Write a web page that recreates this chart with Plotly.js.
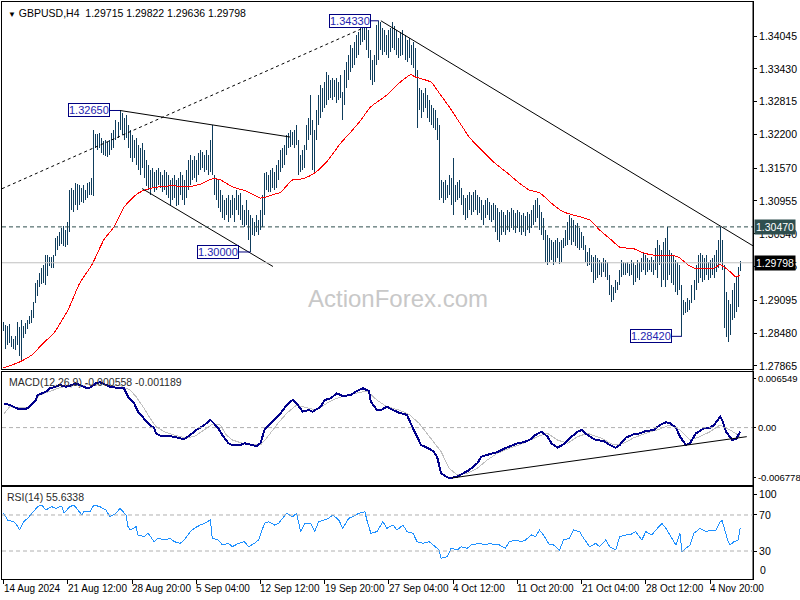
<!DOCTYPE html>
<html><head><meta charset="utf-8">
<script src="https://cdn.plot.ly/plotly-3.0.1.min.js"></script>
<style>
html,body{margin:0;padding:0;background:#fff;}
#chart{width:800px;height:600px;}
.js-line{shape-rendering:crispEdges;}
</style></head>
<body><div id="chart"></div>
<script>
// ---------------- DATA ----------------
const dateIdx = [0,32,64,96,128,160,192,224,256,288,320,352];
const dateLabels = ["14 Aug 2024","21 Aug 12:00","28 Aug 20:00","5 Sep 04:00","12 Sep 12:00","19 Sep 20:00","27 Sep 04:00","4 Oct 12:00","11 Oct 20:00","21 Oct 04:00","28 Oct 12:00","4 Nov 20:00"];

const highs = [1.2869,1.2863,1.2861,1.2865,1.2843,1.2837,1.2843,1.2869,1.2859,1.2873,
1.2861,1.2867,1.2873,1.2880,1.2891,1.2906,1.2942,1.2948,1.2961,1.2970,
1.2976,1.2994,1.2994,1.2991,1.2991,1.2994,1.3026,1.3030,1.3037,1.3045,
1.3049,1.3041,1.3056,1.3116,1.3120,1.3116,1.3129,1.3127,1.3125,1.3120,
1.3125,1.3116,1.3129,1.3131,1.3139,1.3228,1.3221,1.3221,1.3223,1.3213,
1.3208,1.3210,1.3206,1.3210,1.3223,1.3228,1.3247,1.3243,1.3265,1.3260,
1.3251,1.3257,1.3238,1.3228,1.3219,1.3210,1.3213,1.3200,1.3195,1.3204,
1.3191,1.3172,1.3163,1.3154,1.3157,1.3150,1.3154,1.3157,1.3150,1.3144,
1.3154,1.3150,1.3144,1.3135,1.3139,1.3144,1.3135,1.3139,1.3150,1.3144,
1.3135,1.3154,1.3172,1.3182,1.3172,1.3180,1.3172,1.3185,1.3191,1.3187,
1.3182,1.3191,1.3182,1.3210,1.3238,1.3144,1.3139,1.3135,1.3116,1.3107,
1.3097,1.3101,1.3107,1.3097,1.3107,1.3101,1.3116,1.3107,1.3110,1.3088,
1.3079,1.3097,1.3079,1.3069,1.3064,1.3056,1.3069,1.3060,1.3079,1.3107,
1.3148,1.3150,1.3144,1.3154,1.3157,1.3150,1.3163,1.3172,1.3191,1.3195,
1.3200,1.3219,1.3223,1.3228,1.3225,1.3228,1.3238,1.3210,1.3182,1.3191,
1.3200,1.3238,1.3251,1.3294,1.3247,1.3228,1.3266,1.3294,1.3313,1.3307,
1.3318,1.3337,1.3331,1.3322,1.3326,1.3322,1.3326,1.3318,1.3331,1.3300,
1.3341,1.3356,1.3369,1.3388,1.3382,1.3393,1.3406,1.3412,1.3421,1.3427,
1.3431,1.3425,1.3416,1.3378,1.3360,1.3369,1.3425,1.3433,1.3431,1.3420,
1.3416,1.3406,1.3416,1.3420,1.3431,1.3423,1.3416,1.3401,1.3412,1.3416,
1.3406,1.3397,1.3401,1.3388,1.3393,1.3382,1.3341,1.3307,1.3303,1.3298,
1.3307,1.3294,1.3285,1.3275,1.3270,1.3266,1.3251,1.3238,1.3135,1.3131,
1.3135,1.3125,1.3144,1.3139,1.3176,1.3125,1.3131,1.3135,1.3120,1.3107,
1.3101,1.3107,1.3112,1.3107,1.3112,1.3116,1.3107,1.3103,1.3097,1.3088,
1.3097,1.3101,1.3094,1.3088,1.3092,1.3088,1.3082,1.3075,1.3079,1.3075,
1.3069,1.3079,1.3075,1.3082,1.3079,1.3073,1.3079,1.3075,1.3069,1.3073,
1.3067,1.3075,1.3071,1.3079,1.3088,1.3097,1.3101,1.3088,1.3075,1.3064,
1.3041,1.3032,1.3026,1.3022,1.3019,1.3022,1.3026,1.3019,1.3022,1.3026,
1.3041,1.3056,1.3069,1.3064,1.3060,1.3050,1.3054,1.3045,1.3037,1.3030,
1.3013,1.3000,1.3007,1.2994,1.2991,1.2994,1.2989,1.2985,1.2981,1.2989,
1.2985,1.2981,1.2957,1.2938,1.2934,1.2948,1.2944,1.2966,1.2985,1.2981,
1.2979,1.2981,1.2977,1.2985,1.2981,1.2976,1.2985,1.2981,1.2989,1.2998,
1.2994,1.2989,1.2985,1.2991,1.2985,1.3007,1.3022,1.3013,1.3004,1.3019,
1.3026,1.3047,1.3004,1.2998,1.2994,1.2985,1.2981,1.2976,1.2938,1.2910,
1.2906,1.2914,1.2910,1.2938,1.2948,1.2976,1.2994,1.2998,1.2994,1.2989,
1.2994,1.2981,1.2985,1.2989,1.2994,1.3004,1.3022,1.3047,1.3022,1.2976,
1.2925,1.2910,1.2902,1.2929,1.2942,1.2953,1.2972,1.29822];

const lows = [1.2852,1.2818,1.2826,1.2829,1.2822,1.2818,1.2816,1.2826,1.2805,1.2796,
1.2839,1.2846,1.2856,1.2865,1.2867,1.2876,1.2904,1.2918,1.2934,1.2940,
1.2942,1.2938,1.2955,1.2974,1.2970,1.2970,1.2992,1.3004,1.3011,1.3015,
1.3011,1.3009,1.3013,1.3037,1.3079,1.3075,1.3088,1.3079,1.3088,1.3094,
1.3092,1.3097,1.3101,1.3107,1.3107,1.3105,1.3195,1.3191,1.3195,1.3185,
1.3182,1.3180,1.3178,1.3182,1.3191,1.3195,1.3210,1.3213,1.3228,1.3219,
1.3210,1.3213,1.3195,1.3176,1.3169,1.3176,1.3163,1.3154,1.3144,1.3157,
1.3139,1.3124,1.3116,1.3107,1.3120,1.3112,1.3116,1.3125,1.3120,1.3112,
1.3116,1.3107,1.3101,1.3088,1.3097,1.3101,1.3086,1.3088,1.3107,1.3097,
1.3088,1.3101,1.3116,1.3125,1.3135,1.3139,1.3131,1.3144,1.3154,1.3157,
1.3150,1.3154,1.3144,1.3150,1.3144,1.3107,1.3097,1.3082,1.3075,1.3064,
1.3060,1.3069,1.3056,1.3064,1.3069,1.3056,1.3079,1.3069,1.3060,1.3050,
1.3047,1.3050,1.3022,1.3000,1.3032,1.3030,1.3037,1.3032,1.3041,1.3047,
1.3069,1.3116,1.3112,1.3112,1.3120,1.3116,1.3120,1.3135,1.3150,1.3157,
1.3163,1.3182,1.3195,1.3197,1.3200,1.3195,1.3200,1.3144,1.3150,1.3154,
1.3157,1.3191,1.3210,1.3219,1.3154,1.3150,1.3210,1.3238,1.3251,1.3262,
1.3270,1.3275,1.3285,1.3288,1.3285,1.3290,1.3279,1.3285,1.3288,1.3247,
1.3275,1.3307,1.3322,1.3337,1.3345,1.3350,1.3363,1.3369,1.3388,1.3393,
1.3397,1.3378,1.3363,1.3322,1.3313,1.3318,1.3350,1.3360,1.3378,1.3369,
1.3375,1.3369,1.3363,1.3375,1.3382,1.3378,1.3369,1.3363,1.3367,1.3369,
1.3360,1.3356,1.3363,1.3350,1.3345,1.3326,1.3232,1.3266,1.3251,1.3262,
1.3270,1.3251,1.3243,1.3238,1.3232,1.3228,1.3210,1.3097,1.3101,1.3092,
1.3097,1.3101,1.3107,1.3088,1.3069,1.3094,1.3097,1.3101,1.3088,1.3069,
1.3060,1.3064,1.3079,1.3069,1.3075,1.3079,1.3069,1.3073,1.3060,1.3050,
1.3064,1.3069,1.3060,1.3056,1.3060,1.3037,1.3022,1.3019,1.3032,1.3037,
1.3032,1.3041,1.3037,1.3045,1.3041,1.3036,1.3045,1.3037,1.3032,1.3037,
1.3030,1.3041,1.3036,1.3045,1.3050,1.3056,1.3064,1.3041,1.3032,1.3022,
1.2981,1.2976,1.2981,1.2985,1.2976,1.2981,1.2989,1.2977,1.2981,1.3007,
1.3011,1.3013,1.3022,1.3013,1.3019,1.3011,1.3007,1.3004,1.3007,1.3004,
1.2981,1.2974,1.2976,1.2962,1.2942,1.2948,1.2951,1.2957,1.2953,1.2962,
1.2953,1.2948,1.2919,1.2906,1.2910,1.2923,1.2929,1.2938,1.2953,1.2957,
1.2957,1.2961,1.2955,1.2957,1.2938,1.2944,1.2951,1.2948,1.2962,1.2966,
1.2957,1.2962,1.2966,1.2962,1.2957,1.2966,1.2951,1.2976,1.2934,1.2948,
1.2934,1.2948,1.2957,1.2942,1.2938,1.2925,1.2919,1.2929,1.2842,1.2882,
1.2886,1.2888,1.2891,1.2904,1.2910,1.2929,1.2942,1.2951,1.2944,1.2948,
1.2957,1.2948,1.2951,1.2957,1.2951,1.2962,1.2970,1.2981,1.2966,1.2858,
1.2841,1.2831,1.2844,1.2873,1.2876,1.2888,1.2897,1.29636];

const maIdx = [0,8,14,20,25,32,38,44,50,55,60,66,69,74,84,91,98,104,108,114,121,128,134,138,144,149,155,161,168,174,178,183,191,196,203,205,213,217,222,229,232,244,251,257,262,267,274,279,287,292,297,303,307,314,319,324,331,336,341,344,354,357,362,365,367];
const maVal = [1.2783,1.2794,1.2807,1.2830,1.2848,1.2891,1.2942,1.2976,1.3023,1.3047,1.3084,1.3107,1.3114,1.3120,1.3124,1.3122,1.3127,1.3137,1.3135,1.3122,1.3114,1.3101,1.3107,1.3112,1.3135,1.3137,1.3148,1.3169,1.3204,1.3229,1.3247,1.3272,1.3294,1.3313,1.3332,1.3328,1.3318,1.3298,1.3272,1.3232,1.3215,1.3169,1.3148,1.3129,1.3116,1.3111,1.3088,1.3075,1.3066,1.3060,1.3041,1.3022,1.3009,1.3006,1.2998,1.2994,1.2994,1.2991,1.2976,1.2970,1.2970,1.2976,1.2963,1.2953,1.2957];

const macdIdx = [0,3,6,8,11,13,16,17,21,23,26,28,31,33,36,38,41,43,46,48,51,53,56,58,60,62,65,67,70,72,75,76,78,81,85,88,90,93,96,100,103,104,107,109,112,114,118,120,123,126,128,130,133,135,138,141,144,146,149,152,154,158,160,163,166,169,173,176,179,182,183,186,188,191,193,197,201,204,206,208,211,214,216,217,218,221,223,226,229,232,236,238,242,246,249,252,256,259,262,265,268,271,273,276,279,283,286,288,291,295,299,302,305,307,310,314,317,320,324,327,330,332,335,337,340,342,345,349,352,354,357,358,360,363,365,367];
const macdMain = [0.00327,0.00304,0.00268,0.00246,0.00250,0.00281,0.00371,0.00439,0.00483,0.00529,0.00551,0.00573,0.00551,0.00564,0.00596,0.00573,0.00537,0.00537,0.00596,0.00610,0.00573,0.00551,0.00537,0.00537,0.00529,0.00416,0.00327,0.00214,0.00125,0.00058,-0.00009,-0.00077,-0.00109,-0.00113,-0.00122,-0.00144,-0.00153,-0.00100,-0.00032,0.00035,0.00102,0.00079,-0.00009,-0.00100,-0.00211,-0.00234,-0.00234,-0.00211,-0.00234,-0.00248,-0.00211,-0.00032,0.00058,0.00112,0.00192,0.00304,0.00371,0.00327,0.00214,0.00237,0.00214,0.00281,0.00371,0.00394,0.00462,0.00425,0.00439,0.00493,0.00529,0.00493,0.00349,0.00237,0.00237,0.00281,0.00250,0.00201,0.00170,-0.00009,-0.00122,-0.00234,-0.00271,-0.00315,-0.00392,-0.00503,-0.00615,-0.00669,-0.00678,-0.00661,-0.00615,-0.00571,-0.00481,-0.00392,-0.00359,-0.00332,-0.00288,-0.00257,-0.00211,-0.00198,-0.00167,-0.00100,-0.00055,-0.00122,-0.00211,-0.00271,-0.00225,-0.00122,-0.00055,-0.00032,-0.00100,-0.00167,-0.00180,-0.00234,-0.00271,-0.00234,-0.00136,-0.00090,-0.00077,-0.00046,-0.00032,0.00035,0.00071,0.00058,-0.00001,-0.00122,-0.00234,-0.00211,-0.00077,-0.00009,-0.00001,0.00035,0.00147,0.00102,-0.00055,-0.00167,-0.00153,-0.000558];

const sigIdx = [0,3,8,13,18,23,28,33,38,43,48,53,58,63,66,70,73,76,80,85,90,95,100,104,108,111,114,119,124,128,131,136,141,146,151,156,161,166,171,176,181,186,191,197,202,207,212,218,222,226,231,236,241,246,252,259,266,271,276,281,286,291,298,304,309,314,320,327,332,337,342,347,352,357,362,367];
const sigVal = [0.00179,0.00281,0.00268,0.00268,0.00439,0.00493,0.00537,0.00564,0.00573,0.00573,0.00583,0.00573,0.00564,0.00506,0.00416,0.00260,0.00125,0.00012,-0.00055,-0.00100,-0.00136,-0.00122,-0.00032,0.00044,0.00035,-0.00100,-0.00167,-0.00211,-0.00234,-0.00234,-0.00144,0.00035,0.00192,0.00304,0.00268,0.00237,0.00327,0.00394,0.00439,0.00462,0.00493,0.00371,0.00281,0.00237,0.00179,0.00058,-0.00122,-0.00324,-0.00548,-0.00638,-0.00615,-0.00548,-0.00436,-0.00346,-0.00279,-0.00211,-0.00122,-0.00077,-0.00167,-0.00211,-0.00122,-0.00077,-0.00144,-0.00234,-0.00211,-0.00136,-0.00077,-0.00019,0.00035,-0.00032,-0.00167,-0.00122,-0.00055,0.00035,-0.00032,-0.001189];

const rsiIdx = [0,2,5,6,8,10,12,15,17,19,21,24,26,29,30,33,35,37,39,40,43,45,48,51,53,56,58,61,62,63,66,67,70,72,75,77,80,83,85,88,90,93,95,98,100,103,104,107,109,112,114,117,120,122,125,127,130,132,135,137,140,141,144,146,148,150,153,155,157,159,162,164,167,169,172,174,177,180,181,183,186,189,191,194,196,199,201,204,206,209,212,214,217,218,221,223,226,228,231,233,237,240,242,245,247,250,252,255,258,260,263,265,267,269,272,274,277,279,282,284,287,289,292,295,297,300,302,305,307,310,312,315,318,320,323,325,328,330,333,335,337,338,342,344,347,350,352,355,357,358,361,362,364,366,367];
const rsiVal = [71.9,64.4,62.6,60.7,53.3,62.6,66.3,73.7,79.2,81.1,75.6,79.2,77.4,80,71.9,79.2,81.1,75.6,70,73.7,73.7,81.1,79.2,75.6,68.1,71.9,77.4,70,57,53.3,57,47.8,45.9,49.7,40.4,44.1,42.2,44.1,40.4,38.5,42.2,51.5,55.2,58.9,60.7,64.4,44.1,42.2,36.7,38.5,34.8,38.5,40.4,34.8,38.5,42.2,60.7,62.6,58.9,60.7,70,71.9,68.1,71.9,51.5,60.7,60.7,51.5,62.6,64.4,66.3,70,64.4,55.2,66.3,68.1,71.9,73.7,64.4,49.7,51.5,62.6,55.2,58.9,53.3,58.9,51.5,49.7,40.4,38.5,40.4,36.7,31.1,21.9,23.7,33,31.1,34.8,33,36.7,38.5,36.7,38.5,36.7,36.7,33,40.4,42.2,40.4,42.2,47.8,45.9,53.3,47.8,36.7,36.7,31.1,42.2,44.1,53.3,51.5,44.1,34.8,38.5,34.8,42.2,34.8,31.1,45.9,47.8,47.8,51.5,42.2,51.5,47.8,53.3,60.7,55.2,44.1,36.7,49.7,29.3,36.7,49.7,55.2,51.5,53.3,53.3,62.6,63.7,40.4,36.7,40.4,42.2,55.63];

const priceTicks = [1.34045,1.33430,1.32815,1.32200,1.31570,1.30955,1.30340,1.29725,1.29095,1.28480,1.27865];
const macdTicks = [0.006549,0,-0.006778];
const macdTickText = ["0.006549","0.00","-0.006778"];
const rsiLevels = [70,30];
// RSI scale labels; 100 and 0 sit just inside the window edges, as in the terminal
const rsiTickPos = [93.3,70,30,6.7];
const rsiTickText = ["100","70","30","0"];

// trend lines: [idx0, value0, idx1, value1]
const channelDashed = [-0.8,1.31185,178.6,1.34185];
const upperLine = [58,1.32650,142.7,1.32153];
const lowerLine = [69,1.31188,134.2,1.29728];
const descLine = [188,1.34330,373.4,1.30115];
const macdTrend = [223.4,-0.00678,370.3,-0.00122];
const levelLine = 1.30470;
const bidLine = 1.29798;

const labelIdx = [58,187,123,338];
const labelPrice = [1.32650,1.34330,1.30000,1.28420];

const headerText = "GBPUSD,H4\u00A0\u00A01.29715 1.29822 1.29636 1.29798";
const macdHeader = "MACD(12,26,9) -0.000558 -0.001189";
const rsiHeader = "RSI(14) 55.6338";

// ---------------- BUILD ----------------
const barColor = '#0f3d5c';
const FONT = 'Liberation Sans, Arial, sans-serif';
const bx = [], by = [];
highs.forEach((h, i) => { bx.push(i, i, null); by.push(lows[i], h, null); });

const traces = [
  {type:'scatter', mode:'lines', x:bx, y:by, xaxis:'x3', yaxis:'y', line:{color:barColor, width:1}, connectgaps:false, hoverinfo:'skip'},
  {type:'scatter', mode:'lines', x:maIdx, y:maVal, xaxis:'x3', yaxis:'y', line:{color:'#ff0000', width:1, shape:'spline', smoothing:0.6}, hoverinfo:'skip'},
  {type:'scatter', mode:'lines', x:sigIdx, y:sigVal, xaxis:'x2', yaxis:'y2', line:{color:'#c0c0c0', width:1}, hoverinfo:'skip'},
  {type:'scatter', mode:'lines', x:macdIdx, y:macdMain, xaxis:'x2', yaxis:'y2', line:{color:'#00008b', width:2}, hoverinfo:'skip'},
  {type:'scatter', mode:'lines', x:rsiIdx, y:rsiVal, xaxis:'x', yaxis:'y3', line:{color:'#1e90ff', width:1}, hoverinfo:'skip'}
];

function seg(arr, xref, yref, color, dash) {
  return {type:'line', xref:xref, yref:yref, x0:arr[0], y0:arr[1], x1:arr[2], y1:arr[3],
          line:{color:color, width:1, dash:dash||'solid'}};
}
const shapes = [
  seg(channelDashed,'x3','y','#000','3px,3px'),
  seg(upperLine,'x3','y','#000'),
  seg(lowerLine,'x3','y','#000'),
  seg(descLine,'x3','y','#000'),
  seg(macdTrend,'x2','y2','#000'),
  {type:'line', xref:'paper', yref:'y', x0:0, x1:1, y0:bidLine, y1:bidLine, line:{color:'#c0c0c0', width:1}},
  {type:'line', xref:'paper', yref:'y', x0:0, x1:1, y0:levelLine, y1:levelLine, line:{color:'#2f4f4f', width:1, dash:'4px,3px'}},
  {type:'line', xref:'paper', yref:'y2', x0:0, x1:1, y0:0, y1:0, line:{color:'#b0b0b0', width:1, dash:'4px,3px'}},
  {type:'line', xref:'paper', yref:'paper', x0:1, x1:1, y0:0, y1:1, line:{color:'#000', width:1}}
];
rsiLevels.forEach(v => shapes.push({type:'line', xref:'paper', yref:'y3', x0:0, x1:1, y0:v, y1:v, line:{color:'#b0b0b0', width:1, dash:'4px,3px'}}));

const annotations = [];
annotations.push({xref:'paper', yref:'paper', x:0, y:1, xanchor:'left', yanchor:'top', xshift:4, yshift:-3, showarrow:false,
  text:'<span style="font-size:8px">\u25BC</span> ' + headerText, font:{family:FONT, size:10.5, color:'#000'}});
annotations.push({xref:'paper', yref:'y2 domain', x:0, y:1, xanchor:'left', yanchor:'top', xshift:5, yshift:-2, showarrow:false,
  text:macdHeader, font:{family:FONT, size:10.5, color:'#2a2a2a'}});
annotations.push({xref:'paper', yref:'y3 domain', x:0, y:1, xanchor:'left', yanchor:'top', xshift:3, yshift:-2, showarrow:false,
  text:rsiHeader, font:{family:FONT, size:10.5, color:'#2a2a2a'}});
annotations.push({xref:'paper', yref:'paper', x:0.527, y:0.4853, showarrow:false, text:'ActionForex.com',
  font:{family:FONT, size:24, color:'#c8c8c8'}});
const labelAx = [-31,-29,-32,-31];
labelIdx.forEach((ix, k) => annotations.push({xref:'x3', yref:'y', x:ix, y:labelPrice[k], text:labelPrice[k].toFixed(5),
  showarrow:true, arrowhead:0, arrowwidth:1, arrowcolor:'#000080', ax:labelAx[k], ay:0, standoff:0,
  bgcolor:'#ffffff', bordercolor:'#000080', borderwidth:1, borderpad:0,
  font:{family:FONT, size:11, color:'#2424b0'}}));
annotations.push({xref:'paper', yref:'y', x:1, y:levelLine, xanchor:'left', xshift:1, showarrow:false, text:levelLine.toFixed(5),
  bgcolor:'#2f4f4f', borderpad:1, font:{family:FONT, size:10.5, color:'#ffffff'}});
annotations.push({xref:'paper', yref:'y', x:1, y:bidLine, xanchor:'left', xshift:1, showarrow:false, text:bidLine.toFixed(5),
  bgcolor:'#000000', borderpad:1, font:{family:FONT, size:10.5, color:'#ffffff'}});
// the lowest RSI scale label, drawn as a separate text object
annotations.push({xref:'paper', yref:'paper', x:1, y:0, xanchor:'left', yanchor:'bottom', xshift:5, yshift:1, showarrow:false,
  text:rsiTickText[3] + '\u2009', font:{family:FONT, size:10.5, color:'#000000'}});
dateIdx.forEach((ix, k) => annotations.push({xref:'x', yref:'paper', x:ix, y:0, xanchor:'left', yanchor:'top', yshift:-2, xshift:-2,
  showarrow:false, text:dateLabels[k], font:{family:FONT, size:10, color:'#000'}}));

const xr = [-0.8, 373.4];
const axCommon = {showgrid:false, zeroline:false, showline:true, mirror:true, linecolor:'#000', linewidth:1};
const layout = {
  width:800, height:600,
  margin:{l:2, r:47, t:2, b:21, pad:0},
  paper_bgcolor:'#ffffff', plot_bgcolor:'#ffffff',
  showlegend:false, hovermode:false,
  font:{family:FONT, size:10.5, color:'#000'},
  xaxis: Object.assign({}, axCommon, {domain:[0,1], range:xr, anchor:'y3', tickmode:'array', tickvals:dateIdx, ticks:'outside', ticklen:4, tickcolor:'#000', showticklabels:false}),
  xaxis2: Object.assign({}, axCommon, {matches:'x', anchor:'y2', ticks:'', showticklabels:false}),
  xaxis3: Object.assign({}, axCommon, {matches:'x', anchor:'y', ticks:'', showticklabels:false}),
  yaxis: Object.assign({}, axCommon, {domain:[0.36395,1], range:[1.27808,1.34682], side:'right', anchor:'x3',
    tickmode:'array', tickvals:priceTicks, ticktext:priceTicks.map(v=>v.toFixed(5)), ticks:'outside', ticklen:3, tickcolor:'#000',
    tickfont:{family:FONT, size:10.5, color:'#000'}}),
  yaxis2: Object.assign({}, axCommon, {domain:[0.16291,0.35875], range:[-0.007726,0.007484], side:'right', anchor:'x2',
    tickmode:'array', tickvals:macdTicks, ticktext:macdTickText, ticks:'outside', ticklen:2, tickcolor:'#000',
    tickfont:{family:FONT, size:9.5, color:'#000'}}),
  yaxis3: Object.assign({}, axCommon, {domain:[0,0.15945], range:[-1.1,101.1], side:'right', anchor:'x',
    tickmode:'array', tickvals:rsiTickPos.slice(0,3), ticktext:rsiTickText.slice(0,3), ticks:'outside', ticklen:3, tickcolor:'#000',
    tickfont:{family:FONT, size:10.5, color:'#000'}}),
  shapes: shapes,
  annotations: annotations
};

Plotly.newPlot('chart', traces, layout, {staticPlot:true, displayModeBar:false});
</script>
</body></html>
